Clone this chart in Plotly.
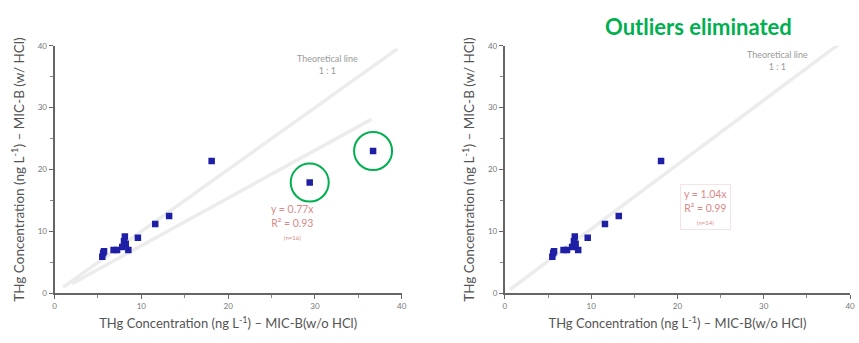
import plotly.graph_objects as go

# THg concentrations (ng/L): MIC-B without HCl (x) vs with HCl (y)
x_main = [5.5, 5.6, 5.7, 6.8, 7.2, 7.8, 8.0, 8.1, 8.2, 8.5, 9.6, 11.6, 13.2, 18.1]
y_main = [5.9, 6.5, 6.8, 7.0, 7.0, 7.5, 8.4, 9.2, 8.0, 7.0, 9.0, 11.2, 12.5, 21.4]
x_outliers = [29.4, 36.7]
y_outliers = [17.9, 23.0]

# Regression slopes shown in the equation boxes
slope_all = 0.77
slope_clean = 1.04
r2_all = 0.93
r2_clean = 0.99

# 1:1 theoretical line extent
theory_x = [1.0, 39.5]
fit_all_x = [2.0, 36.5]
fit_clean_x = [0.6, 39.8]

axis_title = "THg Concentration (ng L<sup>-1</sup>) – MIC-B(w/o HCl)"
yaxis_title = "THg Concentration (ng L<sup>-1</sup>) – MIC-B (w/ HCl)"

LINE_GREY = "#ececec"
PT_COLOR = "#1f1fa6"
GREEN = "#00b050"
EQ_COLOR = "#d98a8a"
TXT = "#555555"
FONT = "Lato, 'Open Sans', sans-serif"

fig = go.Figure()

# ---- left panel: all samples ----
fig.add_trace(go.Scatter(x=theory_x, y=theory_x, mode="lines",
                         line=dict(color=LINE_GREY, width=3.5),
                         xaxis="x", yaxis="y", hoverinfo="skip"))
fig.add_trace(go.Scatter(x=fit_all_x, y=[slope_all * v for v in fit_all_x], mode="lines",
                         line=dict(color=LINE_GREY, width=3.5),
                         xaxis="x", yaxis="y", hoverinfo="skip"))
fig.add_trace(go.Scatter(x=x_main + x_outliers, y=y_main + y_outliers, mode="markers",
                         marker=dict(color=PT_COLOR, size=6.5, symbol="square"),
                         xaxis="x", yaxis="y"))
fig.add_trace(go.Scatter(x=x_outliers, y=y_outliers, mode="markers",
                         marker=dict(symbol="circle-open", size=38,
                                     line=dict(color=GREEN, width=2), color=GREEN),
                         xaxis="x", yaxis="y", hoverinfo="skip"))

# ---- right panel: outliers removed ----
fig.add_trace(go.Scatter(x=fit_clean_x, y=[slope_clean * v for v in fit_clean_x], mode="lines",
                         line=dict(color=LINE_GREY, width=3.5),
                         xaxis="x2", yaxis="y2", hoverinfo="skip"))
fig.add_trace(go.Scatter(x=x_main, y=y_main, mode="markers",
                         marker=dict(color=PT_COLOR, size=6.5, symbol="square"),
                         xaxis="x2", yaxis="y2"))

y_dom = [46 / 343, 301 / 343]

def xax(domain, anchor):
    return dict(domain=domain, anchor=anchor, range=[0, 40], dtick=10,
                showgrid=False, zeroline=False, showline=True,
                linecolor="#666666", linewidth=2, ticks="outside", ticklen=4,
                tickcolor="#666666", tickfont=dict(size=8, color="#777777", family=FONT),
                minor=dict(dtick=5, ticks="outside", ticklen=3, tickcolor="#888888"),
                title=dict(text=axis_title, font=dict(size=13, color=TXT, family=FONT),
                           standoff=9))

def yax(anchor):
    return dict(domain=y_dom, anchor=anchor, range=[0, 40], dtick=10,
                showgrid=False, zeroline=False, showline=True,
                linecolor="#666666", linewidth=2, ticks="outside", ticklen=4,
                tickcolor="#666666", tickfont=dict(size=8, color="#777777", family=FONT),
                minor=dict(dtick=5, ticks="outside", ticklen=3, tickcolor="#888888"),
                title=dict(text=yaxis_title, font=dict(size=13.5, color=TXT, family=FONT),
                           standoff=10))

annotations = [
    dict(text="Outliers eliminated", x=702 / 859, y=1 - 22 / 343, xref="paper", yref="paper",
         xanchor="center", yanchor="middle", showarrow=False,
         font=dict(size=22, color=GREEN, family=FONT, weight="bold")),
    dict(text="Theoretical line<br>1 : 1", x=31.5, y=37.0, xref="x", yref="y",
         xanchor="center", yanchor="middle", showarrow=False,
         font=dict(size=9, color="#9a9a9a", family=FONT)),
    dict(text="Theoretical line<br>1 : 1", x=31.6, y=37.6, xref="x2", yref="y2",
         xanchor="center", yanchor="middle", showarrow=False,
         font=dict(size=9, color="#9a9a9a", family=FONT)),
    dict(text=f"y = {slope_all}x<br>R² = {r2_all}<br><span style='font-size:6px'>(n=16)</span>",
         x=27.4, y=11.6, xref="x", yref="y", xanchor="center", yanchor="middle",
         showarrow=False, font=dict(size=10.5, color=EQ_COLOR, family=FONT)),
    dict(text=f"y = {slope_clean}x<br>R² = {r2_clean}<br><span style='font-size:6px'>(n=14)</span>",
         x=23.3, y=14.0, xref="x2", yref="y2", xanchor="center", yanchor="middle",
         showarrow=False, bordercolor="#f6e4e4", borderwidth=1, borderpad=3,
         font=dict(size=10.5, color=EQ_COLOR, family=FONT)),
]

fig.update_layout(
    width=859, height=343,
    margin=dict(l=0, r=0, t=0, b=0),
    paper_bgcolor="white", plot_bgcolor="white",
    showlegend=False,
    xaxis=xax([53 / 859, 403 / 859], "y"),
    yaxis=yax("x"),
    xaxis2=xax([507 / 859, 855 / 859], "y2"),
    yaxis2=yax("x2"),
    annotations=annotations,
)

fig.write_html("out.html")
